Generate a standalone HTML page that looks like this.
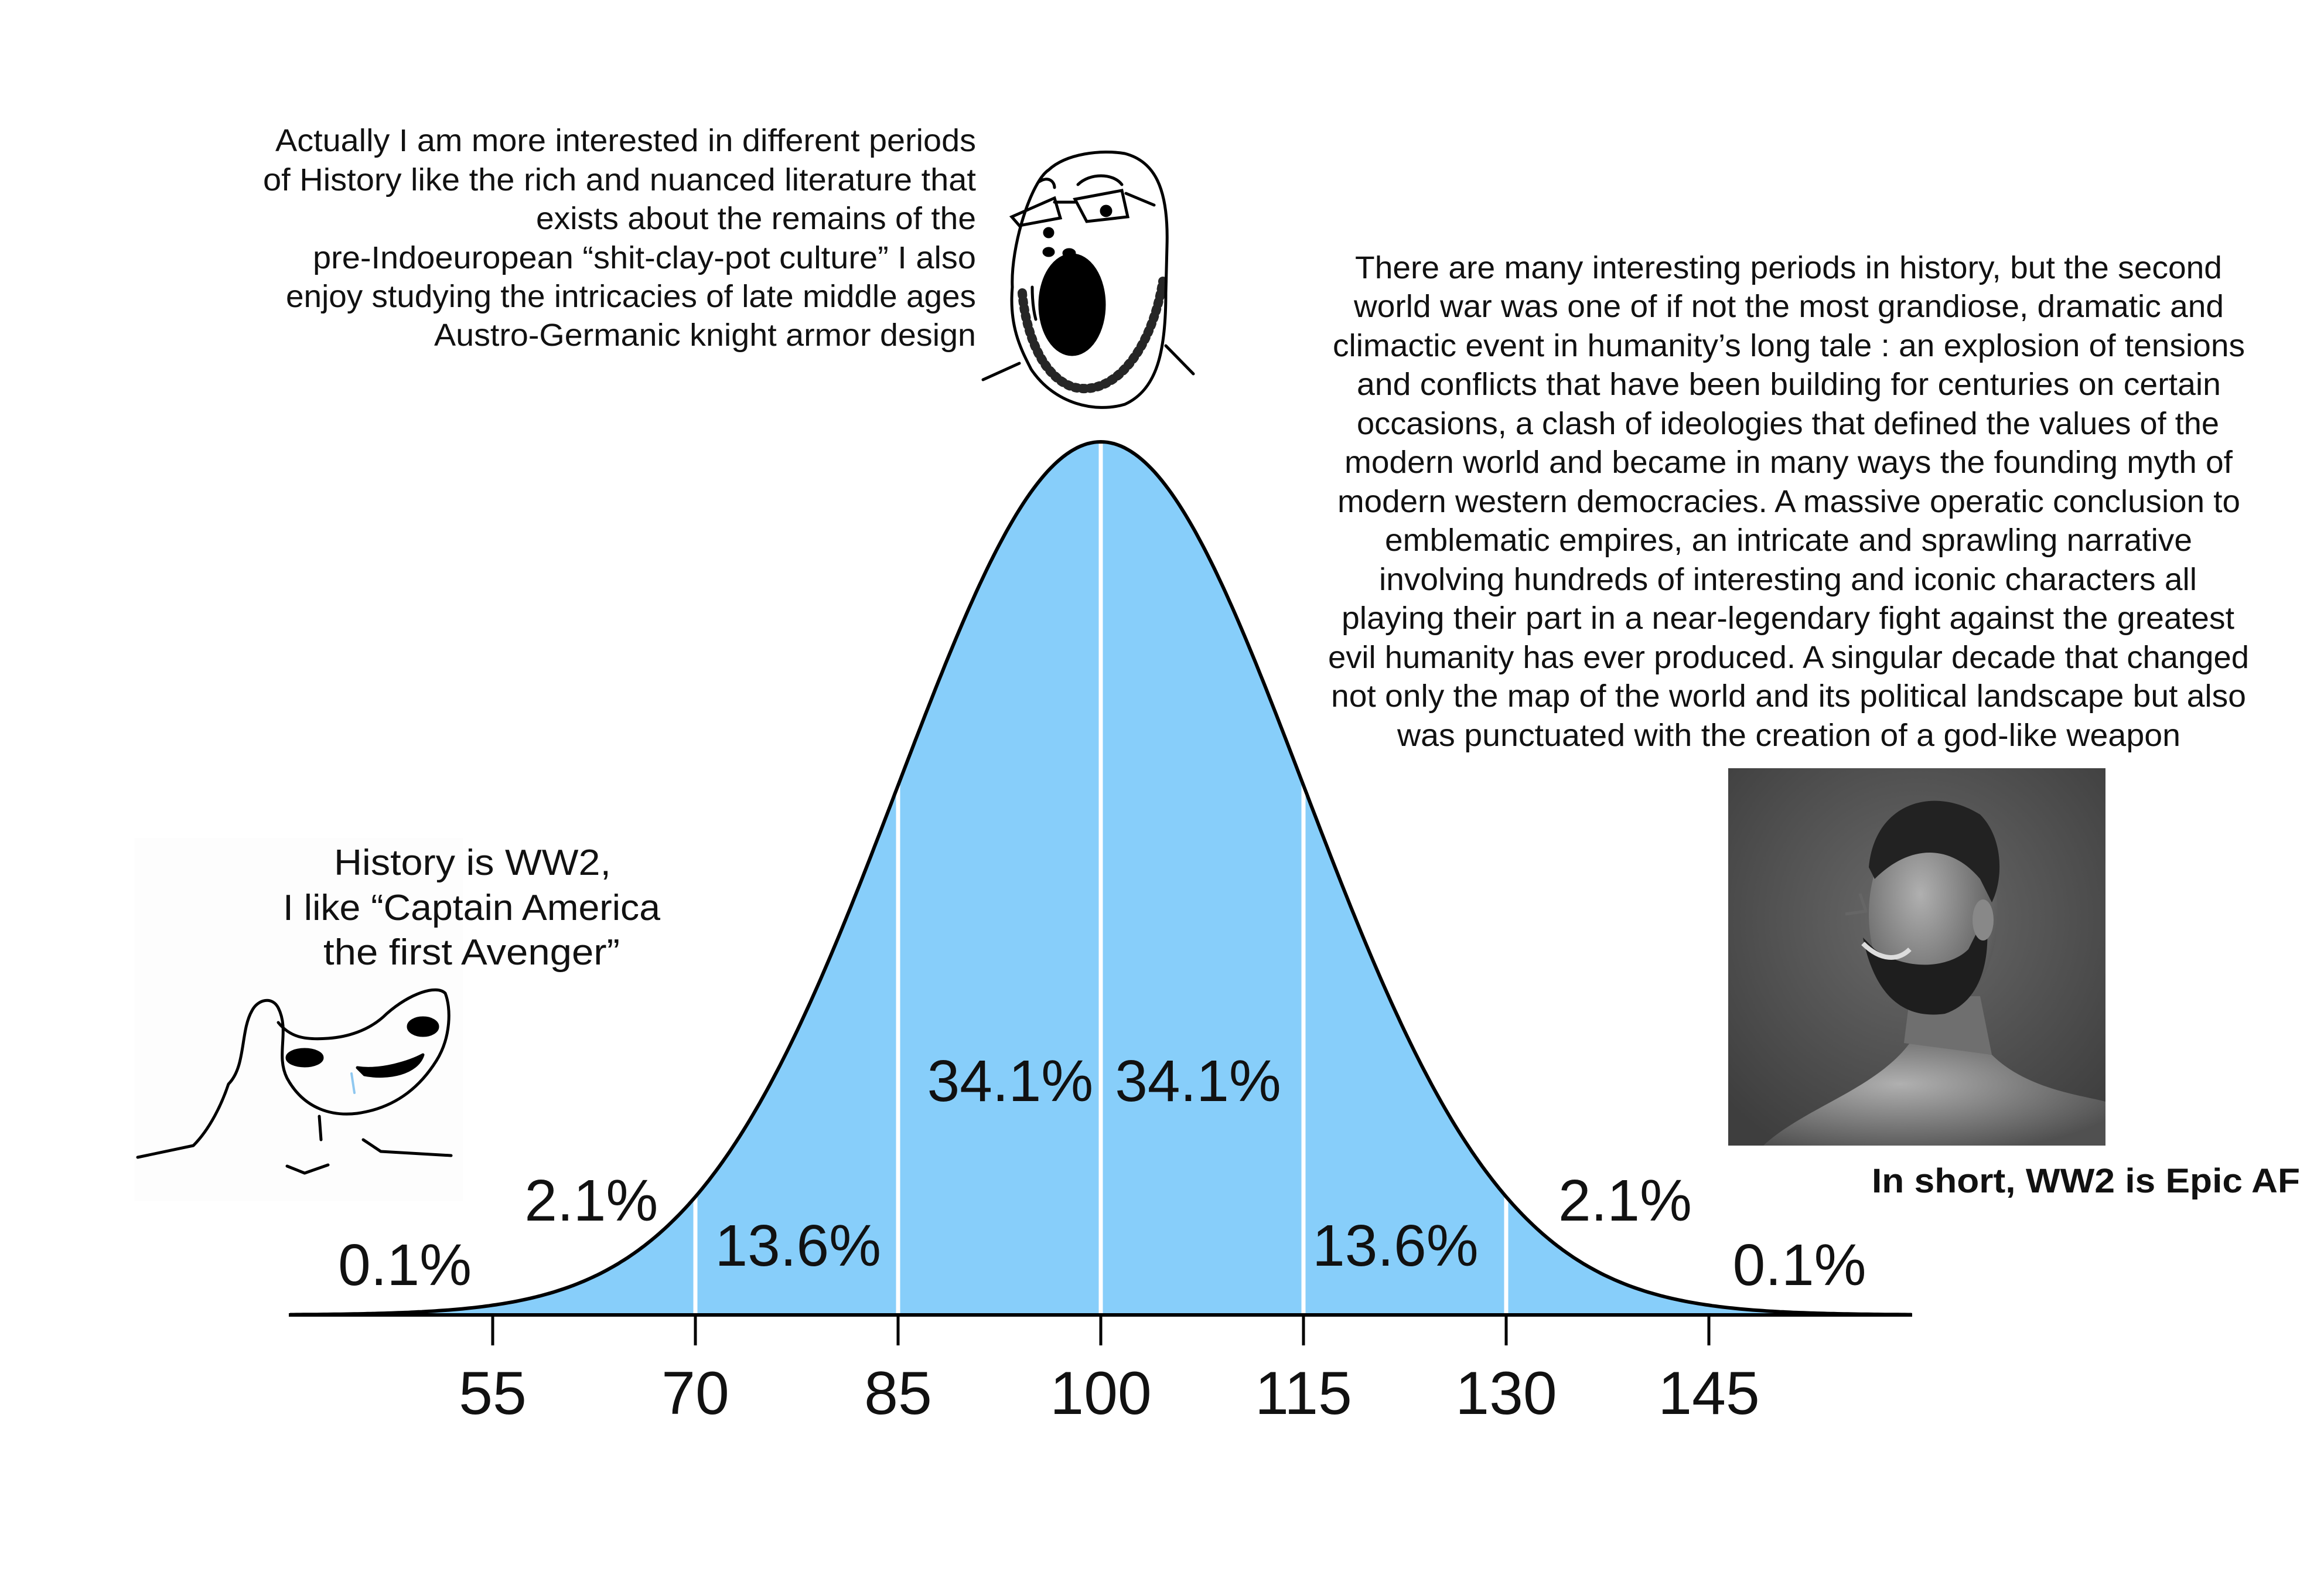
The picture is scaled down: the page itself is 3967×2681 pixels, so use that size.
<!DOCTYPE html>
<html><head><meta charset="utf-8"><style>
html,body{margin:0;padding:0;background:#fff}
svg{display:block}
</style></head><body>
<svg id="chart" width="3967" height="2681" viewBox="0 0 3967 2681" xmlns="http://www.w3.org/2000/svg" font-family="'Liberation Sans', sans-serif">
<rect width="3967" height="2681" fill="#fff"/>

<!-- brainlet (drawn first so text sits above) -->
<g fill="none" stroke="#000" stroke-width="5" stroke-linecap="round" stroke-linejoin="round">
<rect x="230" y="1430" width="560" height="620" fill="#fdfdfd" stroke="none"/>
<path d="M235,1975 L330,1955 C360,1925 380,1880 390,1850 C420,1820 410,1760 430,1725 C440,1705 465,1700 475,1720 C495,1760 470,1800 490,1840 C520,1895 570,1905 610,1900 C680,1890 720,1850 745,1810 C770,1770 770,1720 760,1695 C745,1680 700,1695 660,1730 C630,1760 590,1770 560,1772 C520,1775 495,1770 475,1745"/>
<path d="M620,1945 L650,1965 L770,1972 M490,1990 L520,2002 L560,1988 M545,1905 L548,1945"/>
<ellipse cx="520" cy="1805" rx="30" ry="14" fill="#000"/>
<ellipse cx="722" cy="1752" rx="25" ry="15" fill="#000"/>
<path d="M610,1822 C650,1828 700,1812 722,1800 C712,1832 662,1842 622,1834 Z" fill="#000"/>
<path d="M600,1832 L605,1865" stroke="#8fc8f0" stroke-width="4"/>
</g>

<g id="plot"></g>

<!-- top-left paragraph -->
<g font-size="54" fill="#111" text-anchor="end">
<text x="1666" y="258" textLength="1196" lengthAdjust="spacingAndGlyphs">Actually I am more interested in different periods</text>
<text x="1666" y="325" textLength="1217" lengthAdjust="spacingAndGlyphs">of History like the rich and nuanced literature that</text>
<text x="1666" y="391" textLength="751" lengthAdjust="spacingAndGlyphs">exists about the remains of the</text>
<text x="1666" y="458" textLength="1132" lengthAdjust="spacingAndGlyphs">pre-Indoeuropean “shit-clay-pot culture” I also</text>
<text x="1666" y="524" textLength="1178" lengthAdjust="spacingAndGlyphs">enjoy studying the intricacies of late middle ages</text>
<text x="1666" y="590" textLength="925" lengthAdjust="spacingAndGlyphs">Austro-Germanic knight armor design</text>
</g>

<!-- right paragraph -->
<g font-size="54" fill="#111">
<text x="2313" y="475" textLength="1480" lengthAdjust="spacingAndGlyphs">There are many interesting periods in history, but the second</text>
<text x="2311" y="541" textLength="1485" lengthAdjust="spacingAndGlyphs">world war was one of if not the most grandiose, dramatic and</text>
<text x="2275" y="608" textLength="1557" lengthAdjust="spacingAndGlyphs">climactic event in humanity’s long tale : an explosion of tensions</text>
<text x="2316" y="674" textLength="1475" lengthAdjust="spacingAndGlyphs">and conflicts that have been building for centuries on certain</text>
<text x="2316" y="741" textLength="1472" lengthAdjust="spacingAndGlyphs">occasions, a clash of ideologies that defined the values of the</text>
<text x="2295" y="807" textLength="1516" lengthAdjust="spacingAndGlyphs">modern world and became in many ways the founding myth of</text>
<text x="2283" y="874" textLength="1541" lengthAdjust="spacingAndGlyphs">modern western democracies. A massive operatic conclusion to</text>
<text x="2364" y="940" textLength="1378" lengthAdjust="spacingAndGlyphs">emblematic empires, an intricate and sprawling narrative</text>
<text x="2354" y="1007" textLength="1396" lengthAdjust="spacingAndGlyphs">involving hundreds of interesting and iconic characters all</text>
<text x="2290" y="1073" textLength="1524" lengthAdjust="spacingAndGlyphs">playing their part in a near-legendary fight against the greatest</text>
<text x="2267" y="1140" textLength="1572" lengthAdjust="spacingAndGlyphs">evil humanity has ever produced. A singular decade that changed</text>
<text x="2272" y="1206" textLength="1562" lengthAdjust="spacingAndGlyphs">not only the map of the world and its political landscape but also</text>
<text x="2385" y="1273" textLength="1337" lengthAdjust="spacingAndGlyphs">was punctuated with the creation of a god-like weapon</text>
</g>

<!-- left text -->
<g font-size="62" fill="#111">
<text x="570" y="1493" textLength="473" lengthAdjust="spacingAndGlyphs">History is WW2,</text>
<text x="483" y="1570" textLength="644" lengthAdjust="spacingAndGlyphs">I like “Captain America</text>
<text x="552" y="1646" textLength="506" lengthAdjust="spacingAndGlyphs">the first Avenger”</text>
</g>

<text x="3195" y="2035" font-size="58" font-weight="bold" fill="#111" textLength="731" lengthAdjust="spacingAndGlyphs">In short, WW2 is Epic AF</text>

<!-- soyjak -->
<g fill="none" stroke="#000" stroke-width="5" stroke-linecap="round">
<path d="M1728,490 C1725,420 1760,310 1790,290 C1820,262 1880,255 1920,262 C1970,275 1995,320 1992,420 L1990,500"/>
<path d="M1728,490 C1722,560 1745,600 1760,630 C1800,690 1870,705 1920,690 C1975,665 1990,600 1990,500"/>
<path d="M1727,370 L1800,338 L1810,372 L1740,385 Z M1835,340 L1915,325 L1925,370 L1855,378 Z M1800,345 L1835,345 M1922,330 L1970,350"/>
<path d="M1774,310 C1790,300 1800,310 1800,320 M1840,315 C1860,295 1900,295 1915,315"/>
<path d="M1678,648 L1740,620 M1990,590 L2037,638 M1875,480 C1880,500 1880,530 1873,550 M1762,490 C1762,510 1764,530 1768,545"/>
<ellipse cx="1830" cy="520" rx="55" ry="85" fill="#000"/>
<circle cx="1790" cy="397" r="7" fill="#000"/><circle cx="1888" cy="360" r="8" fill="#000"/>
<ellipse cx="1790" cy="430" rx="8" ry="6" fill="#000"/><ellipse cx="1825" cy="432" rx="9" ry="6" fill="#000"/>
<path d="M1745,500 C1750,560 1775,640 1830,660 C1900,680 1965,600 1985,480" stroke-width="16" stroke-dasharray="4 9" opacity="0.85"/>
</g>

<!-- chad -->
<g>
<defs>
<radialGradient id="cbg" cx="0.5" cy="0.4" r="0.7"><stop offset="0" stop-color="#6a6a6a"/><stop offset="1" stop-color="#3e3e3e"/></radialGradient>
<radialGradient id="skin" cx="0.4" cy="0.4" r="0.7"><stop offset="0" stop-color="#b0b0b0"/><stop offset="1" stop-color="#505050"/></radialGradient>
</defs>
<rect x="2950" y="1311" width="644" height="644" fill="url(#cbg)"/>
<path d="M3010,1955 C3080,1890 3200,1860 3260,1780 L3400,1800 C3460,1860 3560,1870 3594,1880 L3594,1955 Z" fill="url(#skin)"/>
<path d="M3250,1780 L3260,1700 L3380,1700 L3400,1800 Z" fill="#6f6f6f"/>
<ellipse cx="3300" cy="1560" rx="110" ry="170" fill="url(#skin)"/>
<path d="M3190,1480 C3200,1370 3300,1340 3380,1390 C3420,1430 3420,1500 3400,1540 L3380,1500 C3330,1440 3260,1440 3200,1500 Z" fill="#222"/>
<path d="M3180,1600 C3200,1700 3250,1740 3320,1730 C3380,1710 3400,1640 3390,1560 L3360,1620 C3330,1650 3260,1660 3200,1620 Z" fill="#1e1e1e"/>
<path d="M3180,1610 C3210,1640 3240,1640 3260,1620" stroke="#ddd" stroke-width="8" fill="none"/>
<path d="M3150,1560 L3185,1555 L3175,1525" stroke="#666" stroke-width="5" fill="none"/>
<ellipse cx="3385" cy="1570" rx="18" ry="35" fill="#888"/>
</g>

<script>
// ---- chart data ----
var mean = 100;
var stdDev = 15;
var tickValues = [55, 70, 85, 100, 115, 130, 145];
var sigmaLineValues = [70, 85, 100, 115, 130];
var pctLabels = ["0.1%", "2.1%", "13.6%", "34.1%", "34.1%", "13.6%", "2.1%", "0.1%"];
var pctLabelX = [48.5, 62.3, 77.6, 93.3, 107.2, 121.8, 138.8, 151.7];
var pctLabelBaseline = [2193, 2083, 2160, 1879, 1879, 2160, 2083, 2193];
var domain = [40, 160];

var NS = "http://www.w3.org/2000/svg";
var plot = document.getElementById('plot');
var axisY = 2244, peakH = 1490;
function xScale(v){ return 1879 + (v - 100) * 346 / 15; }
function density(v){ var z = (v - mean) / stdDev; return Math.exp(-z * z / 2); }
function yScale(d){ return axisY - d * peakH; }
function mk(tag, attrs){ var e = document.createElementNS(NS, tag); for (var k in attrs) e.setAttribute(k, attrs[k]); plot.appendChild(e); return e; }

var pts = [];
for (var v = domain[0]; v <= domain[1] + 1e-9; v += 0.25) pts.push([xScale(v), yScale(density(v))]);
var line = "M" + pts.map(function(p){ return p[0].toFixed(1) + "," + p[1].toFixed(1); }).join(" L");
var area = mk('path', {d: line + " L" + xScale(domain[1]) + "," + axisY + " L" + xScale(domain[0]) + "," + axisY + " Z", fill: "#87cefa"});



sigmaLineValues.forEach(function(sv){
  var l = mk('line', {x1: xScale(sv), x2: xScale(sv), y1: axisY, y2: yScale(density(sv)), stroke: "#fff", "stroke-width": 7});
  
  
});

var curve = mk('path', {d: line, fill: "none", stroke: "#000", "stroke-width": 6});



var axis = mk('line', {x1: 493, x2: 3264, y1: axisY, y2: axisY, stroke: "#000", "stroke-width": 6});



tickValues.forEach(function(tv){
  var t = mk('line', {x1: xScale(tv), x2: xScale(tv), y1: axisY, y2: axisY + 52, stroke: "#000", "stroke-width": 5});
  
  
  var tx = mk('text', {x: xScale(tv), y: 2413, "text-anchor": "middle", "font-size": 104, fill: "#111"});
  tx.textContent = tv;
  
  
});

pctLabels.forEach(function(lab, i){
  var t = mk('text', {x: xScale(pctLabelX[i]), y: pctLabelBaseline[i], "text-anchor": "middle", "font-size": 100, fill: "#111"});
  t.textContent = lab;
  
  
});
</script>
</svg>
</body></html>
